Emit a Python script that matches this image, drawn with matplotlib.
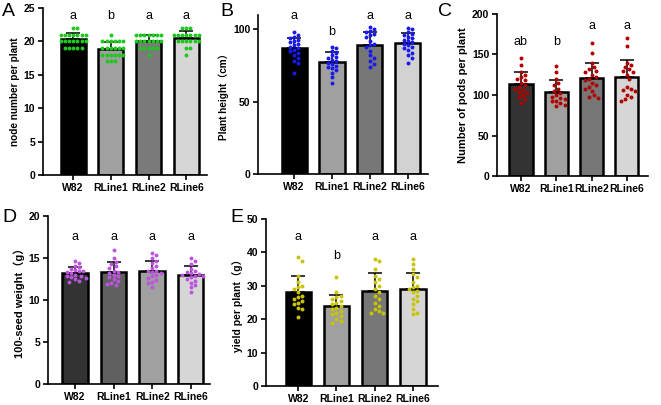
import numpy as np
import matplotlib
matplotlib.use("Agg")
import matplotlib.pyplot as plt

plt.rcParams['font.family'] = ['Liberation Sans', 'Noto Sans CJK SC', 'DejaVu Sans']

lines = ['W82', 'RLine1', 'RLine2', 'RLine6']

# A - node number per plant
node_w82 = [22, 22, 21, 21, 21, 21, 21, 21, 21, 20, 20, 20, 20, 20, 20, 20, 19, 19, 19, 19, 19]
node_r1 = [21, 20, 20, 20, 20, 20, 20, 19, 19, 19, 19, 19, 19, 18, 18, 18, 18, 18, 18, 17, 17, 17]
node_r2 = [21, 21, 21, 21, 21, 21, 21, 20, 20, 20, 20, 20, 20, 20, 19, 19, 19, 19, 19, 18]
node_r6 = [22, 22, 22, 21, 21, 21, 21, 21, 21, 21, 20, 20, 20, 20, 20, 20, 19, 19, 18]
node_letters = ['a', 'b', 'a', 'a']
node_letter_y = [22.9, 22.9, 22.9, 22.9]

# B - plant height
height_w82 = [98, 96, 95, 94, 93, 92, 91, 90, 89, 88, 87, 86, 85, 84, 82, 80, 78, 77, 70]
height_r1 = [88, 87, 85, 84, 82, 81, 80, 79, 78, 77, 76, 75, 74, 73, 72, 70, 67, 63]
height_r2 = [102, 100, 99, 98, 97, 96, 95, 92, 90, 89, 88, 85, 82, 80, 78, 76, 74]
height_r6 = [101, 100, 98, 97, 96, 95, 94, 93, 92, 91, 90, 89, 88, 87, 86, 84, 82, 80, 77]
height_letters = ['a', 'b', 'a', 'a']
height_letter_y = [105, 94, 105, 105]

# C - number of pods per plant
pods_w82 = [146, 137, 128, 125, 122, 120, 118, 115, 112, 110, 108, 106, 104, 102, 100, 98, 95, 90]
pods_r1 = [136, 128, 120, 115, 112, 108, 105, 103, 100, 98, 96, 95, 93, 92, 90, 88, 87]
pods_r2 = [164, 152, 140, 135, 132, 130, 128, 125, 122, 120, 118, 115, 112, 110, 108, 105, 100, 97, 96]
pods_r6 = [170, 160, 140, 137, 135, 132, 130, 128, 125, 120, 110, 108, 106, 105, 100, 97, 95, 93]
pods_letters = ['ab', 'b', 'a', 'a']
pods_letter_y = [158, 158, 178, 178]

# D - 100-seed weight
seed_w82 = [14.7, 14.4, 14.1, 13.9, 13.7, 13.6, 13.5, 13.4, 13.3, 13.2, 13.0, 12.9, 12.8, 12.7, 12.6, 12.5, 12.3, 12.2]
seed_r1 = [16.0, 15.0, 14.5, 14.3, 14.0, 13.8, 13.5, 13.3, 13.2, 13.0, 12.8, 12.7, 12.5, 12.3, 12.0, 11.9, 11.8]
seed_r2 = [15.6, 15.4, 15.0, 14.7, 14.4, 14.0, 13.8, 13.5, 13.5, 13.3, 13.2, 13.0, 12.8, 12.6, 12.4, 12.2, 12.0, 11.6]
seed_r6 = [15.0, 14.7, 14.3, 13.7, 13.4, 13.3, 13.2, 13.1, 13.0, 12.9, 12.8, 12.7, 12.5, 12.3, 12.0, 11.8, 11.5, 10.9]
seed_letters = ['a', 'a', 'a', 'a']
seed_letter_y = [16.8, 16.8, 16.8, 16.8]

# E - yield per plant
yield_w82 = [38.5, 37.5, 33, 31, 30, 29.5, 29, 28, 27, 26.5, 26, 25.5, 25, 24.5, 23.5, 23, 20.8]
yield_r1 = [32.5, 28, 27, 26.5, 26, 25.5, 25, 24.5, 24, 23.5, 23, 22.5, 22, 21.5, 21, 20, 19.5, 19]
yield_r2 = [38, 37.5, 35, 33, 32, 31, 30, 29, 28, 27, 26, 25, 24, 23, 22.5, 22, 22]
yield_r6 = [38, 36.5, 35, 33.5, 32.5, 31, 30, 29.5, 29, 28.5, 28, 27, 26, 25.5, 24.5, 23, 22, 21.5]
yield_letters = ['a', 'b', 'a', 'a']
yield_letter_y = [42.8, 37, 42.8, 42.8]

W, H = 661, 405
fig = plt.figure(figsize=(W / 100, H / 100), dpi=100)


def swarm(vals, ylim, xlim, box, dot=4.2):
    # simple beeswarm: offsets in data units along x
    h = box[3] - box[1]
    w = box[2] - box[0]
    ypx = h / (ylim[1] - ylim[0])
    xpx = w / (xlim[1] - xlim[0])
    placed = []
    offs = []
    for v in vals:
        y = v * ypx
        k = 0
        while True:
            cand = [0] if k == 0 else [k * dot * 0.5, -k * dot * 0.5]
            ok = None
            for c in cand:
                if all((c - px) ** 2 + (y - py) ** 2 >= dot ** 2 for px, py in placed):
                    ok = c
                    break
            if ok is not None:
                placed.append((ok, y))
                offs.append(ok / xpx)
                break
            k += 1
    return np.array(offs)


def panel(box, groups, colors, dot_color, ylim, yticks, xlim, ylabel, letters, letter_y,
          tag, tag_xy, ylabel_size=7.2):
    l, t, r, b = box
    ax = fig.add_axes([l / W, 1 - b / H, (r - l) / W, (b - t) / H])
    x = np.arange(len(groups))
    means = [np.mean(g) for g in groups]
    sds = [np.std(g, ddof=1) for g in groups]
    ax.bar(x, means, width=0.66, color=colors, edgecolor='black', linewidth=1.8, zorder=1)
    ax.errorbar(x, means, yerr=[np.zeros(4), sds], fmt='none', ecolor='black',
                elinewidth=1.1, capsize=5, capthick=1.1, zorder=2)
    for i, g in enumerate(groups):
        offs = swarm(g, ylim, xlim, (l, t, r, b))
        ax.scatter(x[i] + offs, g, s=8, color=dot_color, zorder=3, linewidths=0)
        ax.text(x[i], letter_y[i], letters[i], ha='center', va='bottom', fontsize=9)
    ax.set_xlim(*xlim)
    ax.set_ylim(*ylim)
    ax.set_yticks(yticks)
    ax.set_xticks(x)
    ax.set_xticklabels(lines)
    for s in ['top', 'right']:
        ax.spines[s].set_visible(False)
    for s in ['left', 'bottom']:
        ax.spines[s].set_linewidth(1.2)
    ax.tick_params(axis='both', width=1.2, length=3.5, labelsize=7.5, pad=2)
    for lab in ax.get_xticklabels() + ax.get_yticklabels():
        lab.set_fontweight('bold')
    ax.set_ylabel(ylabel, fontsize=ylabel_size, fontweight='bold', labelpad=3)
    fig.text(tag_xy[0] / W, 1 - tag_xy[1] / H, tag, fontsize=14, ha='left', va='top')
    return ax


panel((43, 8, 207, 175), [node_w82, node_r1, node_r2, node_r6],
      ['#000000', '#a0a0a0', '#7a7a7a', '#d6d6d6'], '#1fc81f',
      (0, 25), [0, 5, 10, 15, 20, 25], (-0.8, 3.55), 'node number per plant',
      node_letters, node_letter_y, 'A', (2, 3))

panel((258, 15, 428, 174), [height_w82, height_r1, height_r2, height_r6],
      ['#000000', '#a0a0a0', '#777777', '#d2d2d2'], '#1a1aee',
      (0, 110), [0, 50, 100], (-0.95, 3.53), 'Plant height（cm）',
      height_letters, height_letter_y, 'B', (220, 3))

panel((497, 14, 648, 176), [pods_w82, pods_r1, pods_r2, pods_r6],
      ['#333333', '#a0a0a0', '#777777', '#d6d6d6'], '#b00000',
      (0, 200), [0, 50, 100, 150, 200], (-0.68, 3.6), 'Number of pods per plant',
      pods_letters, pods_letter_y, 'C', (438, 3), ylabel_size=8)

panel((48, 216, 210, 384), [seed_w82, seed_r1, seed_r2, seed_r6],
      ['#333333', '#606060', '#a0a0a0', '#d6d6d6'], '#bb55dd',
      (0, 20), [0, 5, 10, 15, 20], (-0.7, 3.5), '100-seed weight（g）',
      seed_letters, seed_letter_y, 'D', (2, 209), ylabel_size=8)

panel((266, 219, 438, 386), [yield_w82, yield_r1, yield_r2, yield_r6],
      ['#000000', '#a0a0a0', '#777777', '#d6d6d6'], '#c8c400',
      (0, 50), [0, 10, 20, 30, 40, 50], (-0.84, 3.65), 'yield per plant（g）',
      yield_letters, yield_letter_y, 'E', (230, 209), ylabel_size=7.5)

fig.savefig('out.png', dpi=100)
